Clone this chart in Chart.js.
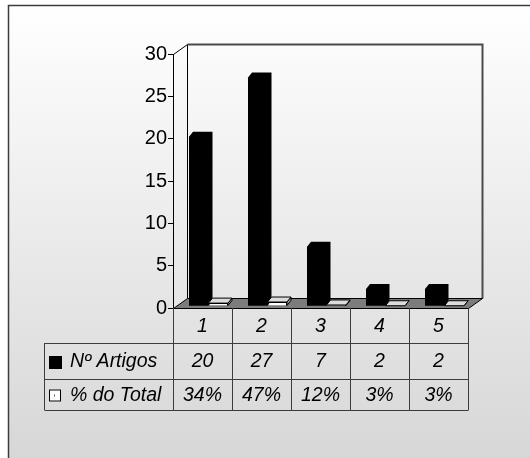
<!DOCTYPE html>
<html>
<head>
<meta charset="utf-8">
<script src="https://cdn.jsdelivr.net/npm/chart.js@4.4.1/dist/chart.umd.min.js"></script>
<style>
  html, body { margin: 0; padding: 0; background: #fff; }
  canvas { display: block; }
</style>
</head>
<body>
<canvas id="c" width="530" height="458"></canvas>
<script>
// Categories and series
const categories = ['1', '2', '3', '4', '5'];
const artigos = [20, 27, 7, 2, 2];
const percentTotal = [0.34, 0.47, 0.12, 0.03, 0.03];
const seriesNames = ['Nº Artigos', '% do Total'];
const yMin = 0, yMax = 30, yStep = 5;

const TABLE_FONT = 'italic 19.5px "Liberation Sans", Arial, sans-serif';
const WALL = { dx: 14, dy: 10 };     // depth of walls / floor
const BAR = { dx: 4, dy: 5 };        // depth of each column
const BAR_SHIFT = { x: 6, y: -2 };   // columns sit half-way into the floor
const ROWS = [308, 343, 379, 410];   // table row boundaries
const TABLE_LEFT = 44;

function poly(ctx, pts) {
  ctx.beginPath();
  ctx.moveTo(pts[0][0], pts[0][1]);
  for (let i = 1; i < pts.length; i++) ctx.lineTo(pts[i][0], pts[i][1]);
  ctx.closePath();
}

const frame3d = {
  id: 'frame3d',
  beforeDraw(chart) {
    const { ctx, width, height } = chart;
    const a = chart.chartArea;
    ctx.save();
    ctx.fillStyle = '#ffffff';
    ctx.fillRect(0, 0, width, height);
    const g = ctx.createLinearGradient(0, 5, 0, height);
    g.addColorStop(0, '#ffffff');
    g.addColorStop(1, '#d7d7d7');
    ctx.fillStyle = g;
    ctx.fillRect(8, 5, width, height);
    ctx.strokeStyle = '#3c3c3c';
    ctx.lineWidth = 1.5;
    ctx.beginPath();
    ctx.moveTo(8.5, height + 2);
    ctx.lineTo(8.5, 5.5);
    ctx.lineTo(width + 2, 5.5);
    ctx.stroke();

    const L = a.left + 0.5, R = a.right + 0.5, T = a.top + 0.5, B = a.bottom + 0.5;
    const dx = WALL.dx, dy = WALL.dy;
    // side and back walls
    ctx.strokeStyle = '#000';
    ctx.lineWidth = 1;
    ctx.beginPath();
    ctx.moveTo(L, T); ctx.lineTo(L + dx, T - dy);
    ctx.moveTo(L + dx, T - dy); ctx.lineTo(L + dx, B - dy);
    ctx.stroke();
    ctx.strokeStyle = '#4a4a4a';
    ctx.lineWidth = 2;
    ctx.beginPath();
    ctx.moveTo(L + dx, T - dy); ctx.lineTo(R + dx, T - dy); ctx.lineTo(R + dx, B - dy);
    ctx.stroke();
    // floor
    poly(ctx, [[L, B], [R, B], [R + dx, B - dy], [L + dx, B - dy]]);
    ctx.fillStyle = '#7c7c7c';
    ctx.fill();
    ctx.strokeStyle = '#000';
    ctx.lineWidth = 1;
    ctx.stroke();
    ctx.restore();
  },
  beforeDatasetsDraw(chart) {
    chart.ctx.save();
    chart.ctx.translate(BAR_SHIFT.x, BAR_SHIFT.y);
  },
  afterDatasetsDraw(chart) {
    const ctx = chart.ctx;
    chart.data.datasets.forEach((ds, di) => {
      const meta = chart.getDatasetMeta(di);
      meta.data.forEach(el => {
        const p = el.getProps(['x', 'y', 'base', 'width'], true);
        const l = p.x - p.width / 2, r = p.x + p.width / 2, t = p.y, b = p.base;
        if (di === 0) {
          // solid column: front, top and side faces as one shape
          ctx.fillStyle = '#000';
          poly(ctx, [[l, b], [l, t], [l + BAR.dx, t - BAR.dy], [r + BAR.dx, t - BAR.dy],
                     [r + BAR.dx, b - BAR.dy], [r, b]]);
          ctx.fill();
        } else {
          const top = [[l, t], [l + BAR.dx, t - BAR.dy], [r + BAR.dx, t - BAR.dy], [r, t]];
          const side = [[r, t], [r + BAR.dx, t - BAR.dy], [r + BAR.dx, b - BAR.dy], [r, b]];
          ctx.strokeStyle = '#000';
          ctx.lineWidth = 1;
          poly(ctx, side); ctx.fillStyle = '#9a9a9a'; ctx.fill(); ctx.stroke();
          poly(ctx, top); ctx.fillStyle = '#dcdcdc'; ctx.fill(); ctx.stroke();
        }
      });
    });
    ctx.restore();
  },
  afterDraw(chart) {
    const { ctx } = chart;
    const a = chart.chartArea;
    const xs = chart.scales.x;
    const half = (xs.getPixelForValue(1) - xs.getPixelForValue(0)) / 2;
    ctx.save();
    ctx.strokeStyle = '#3c3c3c';
    ctx.lineWidth = 1;
    const px = v => Math.round(v) + 0.5;
    ctx.beginPath();
    // vertical separators of the category columns
    for (let i = 0; i <= categories.length; i++) {
      const x = i < categories.length ? xs.getPixelForValue(i) - half : xs.getPixelForValue(categories.length - 1) + half;
      ctx.moveTo(px(x), ROWS[0]); ctx.lineTo(px(x), ROWS[3]);
    }
    ctx.moveTo(px(TABLE_LEFT), ROWS[1]); ctx.lineTo(px(TABLE_LEFT), ROWS[3]);
    for (let r = 1; r <= 3; r++) {
      ctx.moveTo(px(TABLE_LEFT), px(ROWS[r])); ctx.lineTo(px(a.right), px(ROWS[r]));
    }
    ctx.stroke();

    ctx.fillStyle = '#000';
    ctx.font = TABLE_FONT;
    ctx.textBaseline = 'middle';
    ctx.textAlign = 'center';
    const mid = r => (ROWS[r] + ROWS[r + 1]) / 2 + 1;
    categories.forEach((c, i) => {
      const x = xs.getPixelForValue(i);
      ctx.fillText(c, x, mid(0));
      ctx.fillText(String(artigos[i]), x, mid(1));
      ctx.fillText(Math.round(percentTotal[i] * 100) + '%', x, mid(2));
    });
    // row headers with series keys
    ctx.textAlign = 'left';
    ctx.fillText(seriesNames[0], 70, mid(1));
    ctx.fillText(seriesNames[1], 70, mid(2));
    ctx.fillRect(49, mid(1) - 6, 13, 13);
    ctx.fillStyle = '#fff';
    ctx.fillRect(49, mid(2) - 6, 12, 12);
    ctx.strokeStyle = '#000';
    ctx.strokeRect(49.5, mid(2) - 5.5, 11, 11);
    ctx.fillStyle = '#555';
    ctx.fillRect(54, mid(2) - 1, 1, 2);
    ctx.restore();
  }
};

new Chart(document.getElementById('c'), {
  type: 'bar',
  data: {
    labels: categories,
    datasets: [
      { label: seriesNames[0], data: artigos, backgroundColor: '#000', borderWidth: 0 },
      { label: seriesNames[1], data: percentTotal, backgroundColor: '#fff', borderColor: '#000', borderWidth: 1 }
    ]
  },
  options: {
    responsive: false,
    animation: false,
    devicePixelRatio: 1,
    layout: { padding: { left: 0, right: 62, top: 54, bottom: 150 } },
    datasets: { bar: { categoryPercentage: 0.66, barPercentage: 1.0, clip: false } },
    plugins: { legend: { display: false }, tooltip: { enabled: false } },
    scales: {
      x: { display: false },
      y: {
        min: yMin, max: yMax,
        afterFit(scale) { scale.width = 173; },
        ticks: {
          stepSize: yStep,
          color: '#000',
          padding: 1,
          font: { family: '"Liberation Sans", Arial, sans-serif', size: 20 }
        },
        grid: { drawOnChartArea: false, color: '#000', tickLength: 5 },
        border: { display: true, color: '#000', width: 1 }
      }
    }
  },
  plugins: [frame3d]
});
</script>
</body>
</html>
